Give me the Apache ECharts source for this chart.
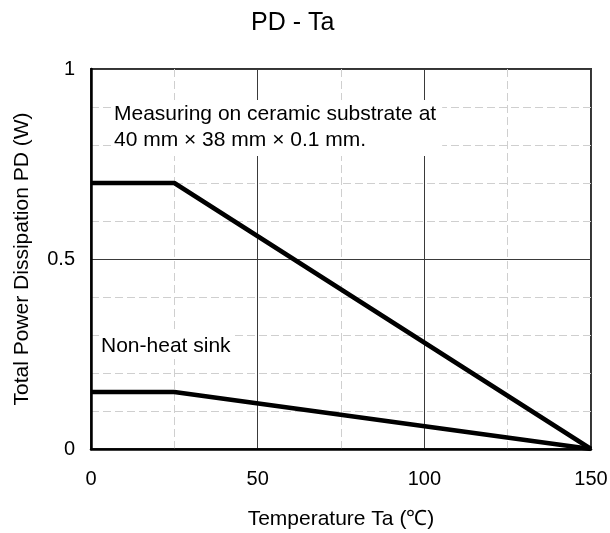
<!DOCTYPE html>
<html>
<head>
<meta charset="utf-8">
<script src="https://cdn.jsdelivr.net/npm/echarts@6/dist/echarts.min.js"></script>
<style>
  html, body { margin: 0; padding: 0; background: #fff; }
  #main { width: 610px; height: 533px; }
</style>
</head>
<body>
<div id="main"></div>
<script>
// 数据
const temps = [0, 25, 150]
const ceramicPD = [0.7, 0.7, 0]
const noHeatSinkPD = [0.15, 0.15, 0]
const noteCeramic = 'Measuring on ceramic substrate at\n40 mm \u00d7 38 mm \u00d7 0.1 mm.'
const noteNoSink = 'Non-heat sink'

const FONT = 'Liberation Sans, Arial, sans-serif'
const chart = echarts.init(document.getElementById('main'))

const toPairs = (xs, ys) => xs.map((x, i) => [x, ys[i]])

const lineSeries = (name, ys) => ({
  name: name,
  type: 'line',
  xAxisIndex: 1,
  yAxisIndex: 1,
  data: toPairs(temps, ys),
  symbol: 'none',
  lineStyle: { color: '#000', width: 4.5 },
  z: 10
})

// 虚线网格 (细) + 实线网格 两套轴叠加
const dashedSplit = { show: true, lineStyle: { color: '#cfcfcf', width: 1, type: [8, 4] } }
const solidSplit = { show: true, lineStyle: { color: '#3a3a3a', width: 1 } }
const labelText = { fontFamily: FONT, fontSize: 20, color: '#000' }
const nameText = { fontFamily: FONT, fontSize: 21, color: '#000' }

const option = {
  animation: false,
  textStyle: { fontFamily: FONT },
  title: {
    text: 'PD - Ta',
    left: 251,
    top: 10,
    padding: 0,
    textStyle: { fontFamily: FONT, fontSize: 25, lineHeight: 26, fontWeight: 'normal', color: '#000' }
  },
  grid: {
    left: 91,
    right: 19,
    top: 69,
    bottom: 84,
    outerBoundsMode: 'none',
    show: true,
    borderColor: '#333',
    borderWidth: 2
  },
  xAxis: [{
    type: 'value',
    position: 'bottom',
    min: 0,
    max: 150,
    interval: 25,
    axisLine: { show: false },
    axisTick: { show: false },
    axisLabel: { show: false },
    splitLine: dashedSplit
  }, {
    type: 'value',
    position: 'bottom',
    min: 0,
    max: 150,
    interval: 50,
    name: 'Temperature Ta (\u2103)',
    nameLocation: 'middle',
    nameGap: 60,
    nameTextStyle: nameText,
    axisLine: { show: true, onZero: false, lineStyle: { color: '#000', width: 2.5 } },
    axisTick: { show: false },
    axisLabel: Object.assign({ margin: 20 }, labelText),
    splitLine: solidSplit
  }],
  yAxis: [{
    type: 'value',
    position: 'left',
    min: 0,
    max: 1,
    interval: 0.1,
    axisLine: { show: false },
    axisTick: { show: false },
    axisLabel: { show: false },
    splitLine: dashedSplit
  }, {
    type: 'value',
    position: 'left',
    min: 0,
    max: 1,
    interval: 0.5,
    name: 'Total Power Dissipation PD (W)',
    nameLocation: 'middle',
    nameGap: 58,
    nameTextStyle: nameText,
    axisLine: { show: true, onZero: false, lineStyle: { color: '#000', width: 2.5 } },
    axisTick: { show: false },
    axisLabel: Object.assign({ margin: 16 }, labelText),
    splitLine: solidSplit
  }],
  series: [
    lineSeries('ceramic', ceramicPD),
    lineSeries('non-heat sink', noHeatSinkPD)
  ],
  graphic: [{
    type: 'text',
    left: 113,
    top: 100,
    z: 100,
    style: {
      text: noteCeramic,
      font: '21px ' + FONT,
      fill: '#000',
      lineHeight: 26,
      backgroundColor: '#fff',
      padding: [1, 6, 3, 1]
    }
  }, {
    type: 'text',
    left: 100,
    top: 333,
    z: 100,
    style: {
      text: noteNoSink,
      font: '21px ' + FONT,
      fill: '#000',
      lineHeight: 26,
      backgroundColor: '#fff',
      padding: [0, 3, 0, 1]
    }
  }]
}

chart.setOption(option)
</script>
</body>
</html>
